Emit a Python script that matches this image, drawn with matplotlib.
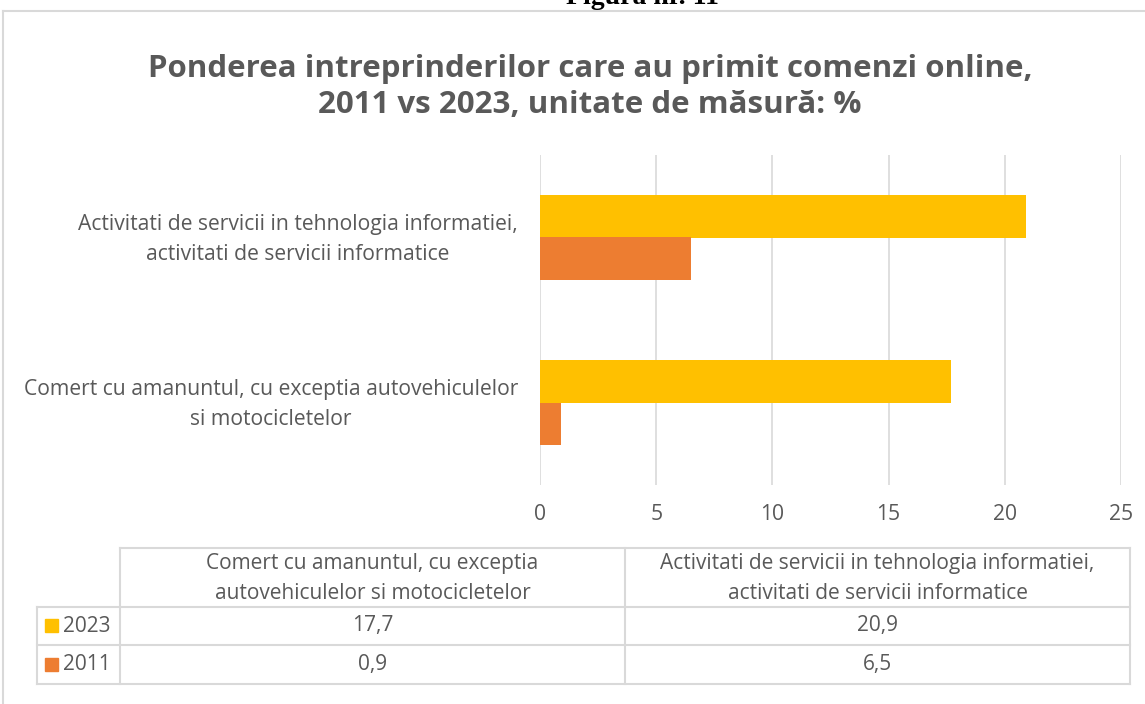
import matplotlib
matplotlib.use("Agg")
import matplotlib.pyplot as plt
import matplotlib.transforms as mtransforms
from matplotlib.lines import Line2D
from matplotlib.patches import Rectangle

# ---- data ----
categories = ["Comert cu amanuntul, cu exceptia autovehiculelor\nsi motocicletelor",
              "Activitati de servicii in tehnologia informatiei,\nactivitati de servicii informatice"]
table_headers = ["Comert cu amanuntul, cu exceptia\nautovehiculelor si motocicletelor",
                 "Activitati de servicii in tehnologia informatiei,\nactivitati de servicii informatice"]
years = ["2023", "2011"]
values_2023 = [17.7, 20.9]
values_2011 = [0.9, 6.5]
x_ticks = [0, 5, 10, 15, 20, 25]
title = "Ponderea intreprinderilor care au primit comenzi online,\n2011 vs 2023, unitate de măsură: %"
colors = {"2023": "#FFC000", "2011": "#ED7D31"}
TXT = "#595959"
GRID = "#D9D9D9"
FONT = "Open Sans"

W, H = 1145, 704
fig = plt.figure(figsize=(W / 100, H / 100), dpi=100)

def fy(y):  # pixel y from top -> fig fraction
    return 1 - y / H

def fx(x):
    return x / W

# ---- bar axes ----
ax_l, ax_r, ax_t, ax_b = 540, 1121, 155, 485
ax = fig.add_axes([fx(ax_l), fy(ax_b), fx(ax_r - ax_l), (ax_b - ax_t) / H])
ypos = list(range(len(categories)))
bh = 0.26
ax.barh([y + bh / 2 for y in ypos], values_2023, height=bh, color=colors["2023"], zorder=3)
ax.barh([y - bh / 2 for y in ypos], values_2011, height=bh, color=colors["2011"], zorder=3)
ax.set_xlim(0, 25)
ax.set_ylim(-0.5, len(categories) - 0.5)
ax.set_xticks(x_ticks)
ax.set_yticks(ypos)
ax.set_yticklabels(categories, ha="right", multialignment="center", linespacing=1.55)
for s in ax.spines.values():
    s.set_visible(False)
ax.grid(axis="x", color=GRID, lw=1.2, zorder=0)
ax.tick_params(axis="both", length=0, colors=TXT, labelsize=15.2)
ax.tick_params(axis="x", pad=14)
ax.tick_params(axis="y", pad=22 * 0.72)
shift = mtransforms.ScaledTranslation(0, 5 / 100, fig.dpi_scale_trans)
for lab in ax.get_yticklabels():
    lab.set_transform(lab.get_transform() + shift)
for lab in ax.get_xticklabels() + ax.get_yticklabels():
    lab.set_fontfamily(FONT)
    lab.set_color(TXT)

# ---- title ----
fig.text(fx(590), fy(87), title, ha="center", va="center", fontsize=22.5, fontweight="bold",
         color=TXT, family=FONT, linespacing=1.25)

# ---- cut "Figura" caption ----
fig.text(fx(642), fy(4), "Figura nr. 11", ha="center", va="baseline", fontsize=20,
         fontweight="bold", family="Liberation Serif", color="black")

# ---- frame ----
fig.add_artist(Line2D([fx(3), fx(3)], [fy(11), fy(H)], color=GRID, lw=1.5))
fig.add_artist(Line2D([fx(3), fx(W)], [fy(11), fy(11)], color=GRID, lw=1.5))

# ---- data table ----
xs = [37, 120, 625, 1130]
ys = [548, 607, 645, 684]
def hline(x0, x1, y):
    fig.add_artist(Line2D([fx(x0), fx(x1)], [fy(y), fy(y)], color=GRID, lw=1.5))
def vline(x, y0, y1):
    fig.add_artist(Line2D([fx(x), fx(x)], [fy(y0), fy(y1)], color=GRID, lw=1.5))
hline(xs[1], xs[3], ys[0])
for y in ys[1:]:
    hline(xs[0], xs[3], y)
vline(xs[0], ys[1], ys[3])
for x in xs[1:]:
    vline(x, ys[0], ys[3])

tfs = 15
for i, h in enumerate(table_headers):
    fig.text(fx((xs[i + 1] + xs[i + 2]) / 2), fy((ys[0] + ys[1]) / 2 + 1), h, ha="center", va="center",
             fontsize=tfs, color=TXT, family=FONT, linespacing=1.55)
rows = {"2023": values_2023, "2011": values_2011}
for r, yr in enumerate(years):
    yc = (ys[r + 1] + ys[r + 2]) / 2
    fig.add_artist(Rectangle((fx(45), fy(yc + 6)), 13 / W, 13 / H, color=colors[yr]))
    fig.text(fx(63), fy(yc), yr, ha="left", va="center", fontsize=tfs, color=TXT, family=FONT)
    for c, v in enumerate(rows[yr]):
        fig.text(fx((xs[c + 1] + xs[c + 2]) / 2), fy(yc), f"{v:.1f}".replace(".", ","),
                 ha="center", va="center", fontsize=tfs, color=TXT, family=FONT)

fig.savefig("out.png", dpi=100)
